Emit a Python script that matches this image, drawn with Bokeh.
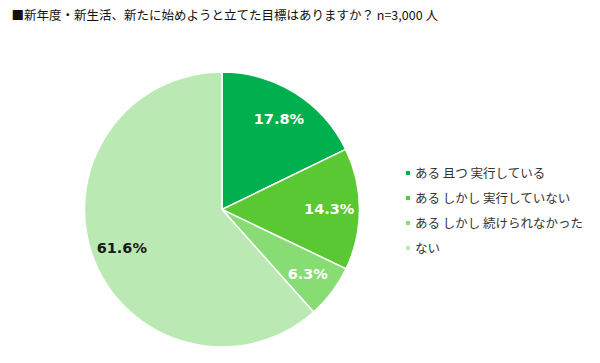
import numpy as np
from bokeh.plotting import figure
from bokeh.models import ColumnDataSource, Label, Legend, LegendItem
from bokeh.core.properties import value
from bokeh.embed import file_html
from bokeh.resources import INLINE

title_text = "■新年度・新生活、新たに始めようと立てた目標はありますか？  n=3,000 人"
categories = ["ある 且つ 実行している", "ある しかし 実行していない", "ある しかし 続けられなかった", "ない"]
shares = [17.8, 14.3, 6.3, 61.6]
colors = ["#00AF4D", "#5AC833", "#88DC74", "#BBE9B3"]
label_colors = ["#FFFFFF", "#FFFFFF", "#FFFFFF", "#1A1A1A"]

W, H = 590, 347
CX, CY, R = 221.5, 138, 137.5

frac = np.array(shares) / sum(shares)
cum = np.concatenate([[0], np.cumsum(frac)])
start = np.pi / 2 - cum[:-1] * 2 * np.pi
end = np.pi / 2 - cum[1:] * 2 * np.pi
mid = (start + end) / 2
lr = 0.78 * R
src = ColumnDataSource(dict(
    cat=categories, val=shares, color=colors, start=start, end=end,
    lx=CX + lr * np.cos(mid), ly=CY + lr * np.sin(mid),
    lab=[f"{v:.1f}%" for v in shares], lc=label_colors,
))

p = figure(width=W, height=H, x_range=(0, W), y_range=(0, H),
           output_backend="svg", toolbar_location=None, min_border=0,
           outline_line_color=None)
p.axis.visible = False
p.grid.visible = False
p.background_fill_color = "white"

r = p.wedge(x=CX, y=CY, radius=R, start_angle="start", end_angle="end",
            direction="clock", fill_color="color", line_color="white",
            line_width=1.5, source=src)

p.text(x="lx", y="ly", text="lab", text_color="lc", source=src,
       text_align="center", text_baseline="middle", text_font_size="14.5px",
       text_font_style="bold", text_font=value("Verdana, DejaVu Sans"))

items = [LegendItem(label=c, renderers=[r], index=i) for i, c in enumerate(categories)]
legend = Legend(items=items, location=(404, 90), orientation="vertical",
                glyph_width=7, glyph_height=7, label_height=15, spacing=6,
                label_standoff=4, padding=0, margin=0,
                border_line_color=None, background_fill_alpha=0,
                label_text_font_size="12.5px", label_text_color="#333333",
                label_text_font="Noto Sans CJK JP")
p.add_layout(legend, "center")

p.add_layout(Label(x=11, y=H - 14, x_units="screen", y_units="screen",
                   text=title_text, text_font_size="12.5px",
                   text_font="Noto Sans CJK JP", text_color="#111111",
                   text_baseline="middle"))

open("out.html", "w").write(file_html(p, INLINE))
